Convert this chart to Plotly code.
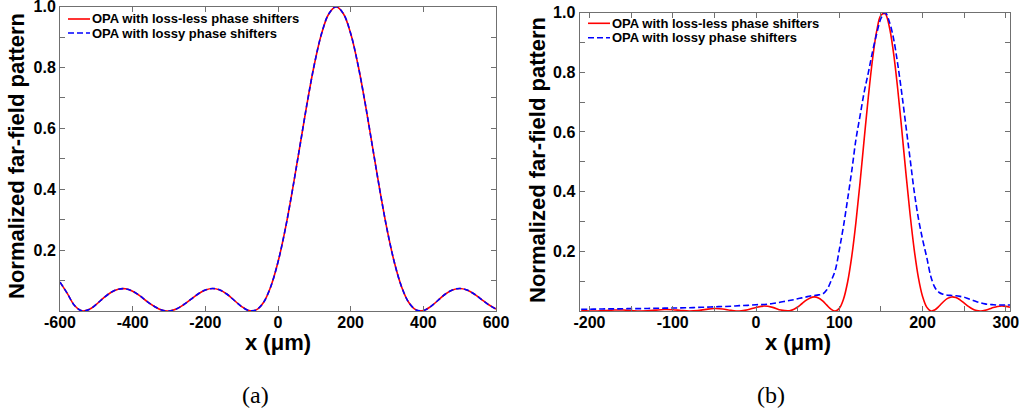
import plotly.graph_objects as go

# ---------------- data (a) ----------------
xa = [-600, -580, -560, -540, -520, -500, -480, -460, -440, -420, -400, -380, -360, -340, -320,
      -300, -280, -260, -240, -220, -200, -180, -160, -140, -120, -100, -80, -60, -40, -20,
      0, 20, 40, 60, 80, 100, 120, 140, 160, 180, 200, 220, 240, 260, 280,
      300, 320, 340, 360, 380, 400, 420, 440, 460, 480, 500, 520, 540, 560, 580, 600]
lossless_a = [0.095, 0.058, 0.018, 0.0005, 0.005, 0.022, 0.043, 0.061, 0.0715, 0.073, 0.065, 0.050, 0.031, 0.015, 0.003,
              0.0002, 0.0065, 0.0205, 0.038, 0.056, 0.069, 0.074, 0.069, 0.055, 0.0345, 0.0145, 0.0014, 0.0036, 0.028, 0.080,
              0.161, 0.269, 0.399, 0.540, 0.682, 0.810, 0.912, 0.977, 1.0, 0.977, 0.912, 0.810, 0.682, 0.540, 0.399,
              0.269, 0.161, 0.080, 0.028, 0.0036, 0.0014, 0.0145, 0.0345, 0.055, 0.069, 0.074, 0.069, 0.056, 0.038, 0.0205, 0.0065]
lossy_a = list(lossless_a)

# ---------------- data (b) ----------------
xb = [-210, -200, -190, -180, -170, -160, -150, -140, -130, -120, -110, -100, -90, -80, -70, -60, -50, -40, -30, -20,
      -10, 0, 10, 20, 30, 40,
      45, 50, 55, 60, 65, 70, 75, 80, 85, 90, 95, 100, 105, 110, 115, 120, 125, 130, 135, 140, 145, 150, 155,
      160, 165, 170, 175, 180, 185, 190, 195, 200, 205, 210, 215, 220, 225, 230, 235, 240, 245, 250, 255, 260,
      265, 270, 275, 280, 285, 290, 295, 300, 305]
lossless_b = [0.0014, 0.0002, 0.0002, 0.0016, 0.0031, 0.0031, 0.0016, 0.0001, 0.0006, 0.0029, 0.0049, 0.0044, 0.0018, 0.0000, 0.0015, 0.0055, 0.0083, 0.0067, 0.0022, 0.0000,
              0.0040, 0.0120, 0.0165, 0.0122, 0.0031, 0.0007,
              0.0052, 0.0135, 0.0243, 0.0354, 0.0439, 0.0472, 0.0437, 0.0337, 0.0196, 0.0062, 0.0, 0.0087, 0.0393, 0.0972, 0.184, 0.298, 0.433, 0.579, 0.721, 0.845, 0.939, 0.991, 0.996,
              0.953, 0.867, 0.748, 0.608, 0.462, 0.324, 0.205, 0.112, 0.0486, 0.0129, 0.0003, 0.0041, 0.0167, 0.0311, 0.0422, 0.0471, 0.0450, 0.0374, 0.0266, 0.0155, 0.0065,
              0.0013, 0.0001, 0.0023, 0.0067, 0.0114, 0.0150, 0.0165, 0.0156, 0.0127]
lossy_b = [0.006, 0.006, 0.0065, 0.007, 0.007, 0.0075, 0.008, 0.008, 0.0085, 0.009, 0.0095, 0.010, 0.0105, 0.011, 0.012, 0.013, 0.014, 0.015, 0.016, 0.018,
           0.019, 0.021, 0.022, 0.025, 0.030, 0.035,
           0.038, 0.041, 0.044, 0.047, 0.050, 0.052, 0.054, 0.057, 0.071, 0.100, 0.135, 0.205, 0.284, 0.375, 0.470, 0.575, 0.655, 0.735, 0.800, 0.870, 0.930, 0.980, 1.0,
           0.970, 0.915, 0.830, 0.730, 0.620, 0.510, 0.400, 0.310, 0.240, 0.180, 0.115, 0.078, 0.062, 0.056, 0.053, 0.052, 0.051, 0.049, 0.046, 0.041, 0.036,
           0.031, 0.027, 0.024, 0.022, 0.021, 0.020, 0.020, 0.020, 0.020]

name_ll = "OPA with loss-less phase shifters"
name_ly = "OPA with lossy phase shifters"

yticks = [0.1, 0.2, 0.3, 0.4, 0.5, 0.6, 0.7, 0.8, 0.9, 1.0]
ytext = ["", "0.2", "", "0.4", "", "0.6", "", "0.8", "", "1.0"]
xa_ticks = [-600, -400, -200, 0, 200, 400, 600]
xa_text = ["-600", "-400", "-200", "0", "200", "400", "600"]
xb_ticks = [-200, -150, -100, -50, 0, 50, 100, 150, 200, 250, 300]
xb_text = ["-200", "", "-100", "", "0", "", "100", "", "200", "", "300"]

W, H = 1019, 415
FONT = "Liberation Sans"
SERIF = "Liberation Serif"
RED = "#ff0000"
BLUE = "#0000ff"
DASH_A = "5px,3px"
DASH_B = "6px,3px"

fig = go.Figure()
fig.add_trace(go.Scatter(x=xa, y=lossless_a, mode="lines", name=name_ll, line=dict(color=RED, width=1.6, shape="spline"),
                         xaxis="x", yaxis="y", showlegend=False))
fig.add_trace(go.Scatter(x=xa, y=lossy_a, mode="lines", name=name_ly, line=dict(color=BLUE, width=1.6, dash=DASH_A, shape="spline"),
                         xaxis="x", yaxis="y", showlegend=False))
fig.add_trace(go.Scatter(x=xb, y=lossless_b, mode="lines", name=name_ll, line=dict(color=RED, width=1.6, shape="spline"),
                         xaxis="x2", yaxis="y2", showlegend=False))
fig.add_trace(go.Scatter(x=xb, y=lossy_b, mode="lines", name=name_ly, line=dict(color=BLUE, width=1.6, dash=DASH_B, shape="spline"),
                         xaxis="x2", yaxis="y2", showlegend=False))

def px_x(p):
    return p / W

def px_y(p):
    return (H - p) / H

axcommon = dict(showline=True, linecolor="#707070", linewidth=1, mirror="allticks", ticks="inside", ticklen=5,
                tickcolor="#707070", tickwidth=1, showgrid=False, zeroline=False, automargin=False,
                ticklabeloverflow="allow",
                tickfont=dict(family=FONT, size=16, color="black", weight="bold"))

fig.update_layout(
    width=W, height=H, autosize=False, margin=dict(l=0, r=0, t=0, b=0, pad=0, autoexpand=False),
    paper_bgcolor="white", plot_bgcolor="white",
    xaxis=dict(domain=[px_x(60), px_x(496)], range=[-600, 600], tickvals=xa_ticks, ticktext=xa_text, anchor="y",
               ticklabelstandoff=-3, **axcommon),
    yaxis=dict(domain=[px_y(311), px_y(6.7)], range=[0, 1], tickvals=yticks, ticktext=ytext, anchor="x", **axcommon),
    xaxis2=dict(domain=[px_x(579.5), px_x(1010)], range=[-212, 305], tickvals=xb_ticks, ticktext=xb_text, anchor="y2",
                ticklabelstandoff=-3, **axcommon),
    yaxis2=dict(domain=[px_y(311), px_y(12.5)], range=[0, 1], tickvals=yticks, ticktext=ytext, anchor="x2", **axcommon),
    showlegend=False,
)

# legends (line samples + labels), one per panel
leg_font = dict(family=FONT, size=13, color="black", weight="bold")
for (lx0, lx1, row1, row2) in [(68, 90, 19, 33), (588, 610, 23.3, 37.7)]:
    for (ry, col, dash, label) in [(row1, RED, "solid", name_ll), (row2, BLUE, DASH_B, name_ly)]:
        fig.add_shape(type="line", xref="paper", yref="paper", x0=px_x(lx0), x1=px_x(lx1), y0=px_y(ry), y1=px_y(ry),
                      line=dict(color=col, width=1.6, dash=dash))
        fig.add_annotation(text=label, x=px_x(lx1 + 0.5), y=px_y(ry), xref="paper", yref="paper", showarrow=False,
                           font=leg_font, xanchor="left", yanchor="middle", borderpad=0)

title_font = dict(family=FONT, size=22, color="black", weight="bold")
fig.add_annotation(text="Normalized far-field pattern", x=px_x(17), y=px_y(156), xref="paper", yref="paper",
                   textangle=-90, showarrow=False, font=title_font, xanchor="center", yanchor="middle")
fig.add_annotation(text="Normalized far-field pattern", x=px_x(537), y=px_y(160), xref="paper", yref="paper",
                   textangle=-90, showarrow=False, font=title_font, xanchor="center", yanchor="middle")
fig.add_annotation(text="x (\u03bcm)", x=px_x(277.5), y=px_y(342), xref="paper", yref="paper",
                   showarrow=False, font=title_font, xanchor="center", yanchor="middle")
fig.add_annotation(text="x (\u03bcm)", x=px_x(798), y=px_y(342), xref="paper", yref="paper",
                   showarrow=False, font=title_font, xanchor="center", yanchor="middle")
cap_font = dict(family=SERIF, size=24, color="black")
fig.add_annotation(text="(a)", x=px_x(256), y=px_y(395), xref="paper", yref="paper",
                   showarrow=False, font=cap_font, xanchor="center", yanchor="middle")
fig.add_annotation(text="(b)", x=px_x(771), y=px_y(395), xref="paper", yref="paper",
                   showarrow=False, font=cap_font, xanchor="center", yanchor="middle")

fig.write_html("out.html")
